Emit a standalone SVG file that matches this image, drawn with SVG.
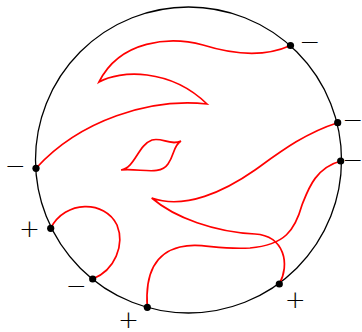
<svg xmlns="http://www.w3.org/2000/svg" width="362" height="332" viewBox="0 0 362 332">
<style>
.bd{fill:none;stroke:#000;stroke-width:1.3}
.arc{fill:none;stroke:#ff0000;stroke-width:1.7;stroke-linejoin:miter}
.dot{fill:#000}
.lb{font-family:"DejaVu Sans",sans-serif;font-size:25px;font-weight:200;fill:#000;text-anchor:middle;dominant-baseline:central}
</style>
<rect width="362" height="332" fill="#fff"/>
<g id="boundary"><circle class="bd" cx="188.5" cy="160" r="153"/></g>
<g id="connectors">
<path class="arc" d="M290.5,45.5 C265,57 235,55 203,45 C170,36 120,40 99,82 C120,70 170,68 207,104 C150,98 80,120 36,168.3"/>
<path class="arc" d="M121,170 C140,168 160,176 168,164 C175,154 173,146 181,141 C170,146 162,137 152,140 C138,145 135,168 121,170 Z"/>
<path class="arc" d="M337.7,122.7 C305,133 280,152 255,170 C225,191 185,210 151.7,198 C175,218 215,232 255,234 C285,236 290,265 279.3,284"/>
<path class="arc" d="M340.7,161 C315,168 308,190 302,205 C295,230 285,245 250,248 C215,250 200,242 180,247 C155,253 145,275 147.3,307.3"/>
<path class="arc" d="M50.7,228.3 C65,200 105,200 117,225 C125,245 115,270 92.7,279"/>
</g>
<g id="p1"><circle class="dot" cx="290.5" cy="45.5" r="3.6"/><text class="lb" x="310" y="41">−</text></g>
<g id="p2"><circle class="dot" cx="337.7" cy="122.7" r="3.6"/><text class="lb" x="353" y="119.5">−</text></g>
<g id="p3"><circle class="dot" cx="340.7" cy="161" r="3.6"/><text class="lb" x="353" y="159.3">−</text></g>
<g id="p4"><circle class="dot" cx="36" cy="168.3" r="3.6"/><text class="lb" x="15.5" y="165">−</text></g>
<g id="p5"><circle class="dot" cx="50.7" cy="228.3" r="3.6"/><text class="lb" x="29.5" y="228.7">+</text></g>
<g id="p6"><circle class="dot" cx="92.7" cy="279" r="3.6"/><text class="lb" x="76.5" y="285.7">−</text></g>
<g id="p7"><circle class="dot" cx="147.3" cy="307.3" r="3.6"/><text class="lb" x="128.5" y="319">+</text></g>
<g id="p8"><circle class="dot" cx="279.3" cy="284" r="3.6"/><text class="lb" x="295.3" y="299.3">+</text></g>
</svg>
